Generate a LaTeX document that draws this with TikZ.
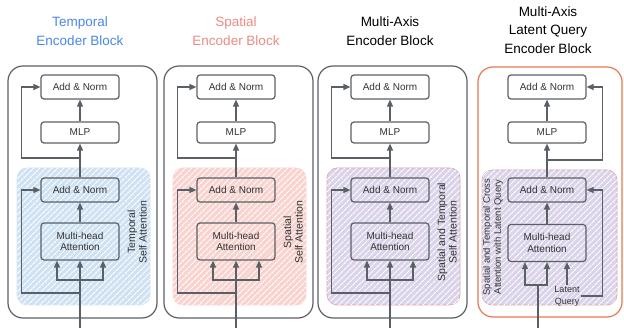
\documentclass[tikz,border=0pt]{standalone}
\usepackage{fontspec}
\setmainfont{Liberation Sans}
\usetikzlibrary{arrows.meta}
\usetikzlibrary{patterns.meta}
\definecolor{linegray}{HTML}{5A6066}
\definecolor{tempblue}{HTML}{4A86E8}
\definecolor{tempfill}{HTML}{CFE2F3}
\definecolor{spatred}{HTML}{EC8A84}
\definecolor{spatfill}{HTML}{F8D3D0}
\definecolor{axisfill}{HTML}{DAD3EA}
\definecolor{axisedge}{HTML}{E3A3A8}
\definecolor{latentorange}{HTML}{E8764F}
\tikzstyle{block}=[draw=linegray, line width=1.2pt, rounded corners=3pt, minimum width=78pt, text=black!80, font=\fontsize{10}{11.5}\selectfont]
\tikzstyle{outer}=[draw=linegray, line width=1.2pt, rounded corners=15pt]
\tikzstyle{region}=[rounded corners=10pt, pattern={Lines[angle=45,distance=4pt,line width=1.1pt]}, pattern color=white]
\tikzstyle{arrow}=[draw=linegray, line width=1.2pt, -{Triangle[length=7pt,width=6pt]}]
\tikzstyle{wire}=[draw=linegray, line width=1.2pt]
\tikzstyle{title}=[align=center, font=\fontsize{13.5}{18.5}\selectfont]
\tikzstyle{side}=[align=center, rotate=90, text=black!80, font=\fontsize{10.5}{11.5}\selectfont]

\begin{document}
\begin{tikzpicture}[x=1pt, y=-1pt]
  \useasboundingbox (0,0) rectangle (624,328);

  % the three self attention blocks
  \foreach \i/\dx/\ttl/\tcol/\shade/\sdraw/\lbl in {
      1/0/{Temporal\\Encoder Block}/tempblue/tempfill/tempfill/{Temporal\\Self Attention},
      2/156/{Spatial\\Encoder Block}/spatred/spatfill/spatfill/{Spatial\\Self Attention},
      3/310/{Multi-Axis\\Encoder Block}/black/axisfill/axisedge/{Spatial and Temporal\\Self Attention}}{
    \node [title, text=\tcol] (title\i) at (80+\dx,31) {\ttl};
    \draw [outer] (8+\dx,66) rectangle (157+\dx,318);
    \path [region, preaction={fill=\shade, draw=\sdraw, line width=0.6pt}] (17+\dx,168) rectangle (150+\dx,305);

    \node [block, minimum height=24pt] (addtop\i) at (80+\dx,87) {Add \& Norm};
    \node [block, minimum height=21pt] (mlp\i) at (80+\dx,132.5) {MLP};
    \node [block, minimum height=24pt] (addmid\i) at (80+\dx,190) {Add \& Norm};
    \node [block, minimum height=37pt, align=center] (mha\i) at (80+\dx,241.5) {Multi-head\\Attention};
    \node [side] (label\i) at (137+\dx,232) {\lbl};

    \coordinate (in\i) at (80+\dx,328);
    \coordinate (split\i) at (80+\dx,280);
    \coordinate (res\i) at (80+\dx,293);
    \coordinate (skip\i) at (80+\dx,158);

    \draw [wire] (in\i) -- (split\i);
    \draw [arrow] (split\i) -| ([xshift=-23pt]mha\i.south);
    \draw [arrow] (split\i) -- (mha\i.south);
    \draw [arrow] (split\i) -| ([xshift=23pt]mha\i.south);
    \draw [arrow] (res\i) -| ([xshift=-19pt]addmid\i.west) -- (addmid\i.west);
    \draw [arrow] (mha\i.north) -- (addmid\i.south);
    \draw [arrow] (addmid\i.north) -- (mlp\i.south);
    \draw [arrow] (mlp\i.north) -- (addtop\i.south);
    \draw [arrow] (skip\i) -| ([xshift=-19pt]addtop\i.west) -- (addtop\i.west);
  }

  % latent query block
  \node [title] (title4) at (548,30) {Multi-Axis\\Latent Query\\Encoder Block};
  \draw [outer, draw=latentorange] (478,67) rectangle (622,317);
  \path [region, preaction={fill=axisfill, draw=axisedge, line width=0.6pt}] (482,170) rectangle (617,305);

  \node [block, minimum height=24pt] (addtop4) at (547,87) {Add \& Norm};
  \node [block, minimum height=21pt] (mlp4) at (547,132.5) {MLP};
  \node [block, minimum height=24pt] (addmid4) at (547,190) {Add \& Norm};
  \node [block, minimum height=37pt, align=center] (mha4) at (547,243) {Multi-head\\Attention};
  \node [side, font=\fontsize{9.5}{11}\selectfont] (label4) at (493,237) {Spatial and Temporal Cross\\Attention with Latent Query};
  \node [align=center, text=black!80, inner sep=1pt, font=\fontsize{9}{12}\selectfont] (latent) at (567,296) {Latent\\Query};

  \coordinate (in4) at (538,328);
  \coordinate (split4) at (538,285);
  \coordinate (skip4) at (547,160);

  \draw [wire] (in4) -- (split4);
  \draw [arrow] (split4) -| ([xshift=-22pt]mha4.south);
  \draw [arrow] (split4) -| (mha4.south);
  \draw [arrow] (latent.north) -- (latent.north |- mha4.south);
  \draw [arrow] (latent.east) -| ([xshift=16pt]addmid4.east) -- (addmid4.east);
  \draw [arrow] (mha4.north) -- (addmid4.south);
  \draw [arrow] (addmid4.north) -- (mlp4.south);
  \draw [arrow] (mlp4.north) -- (addtop4.south);
  \draw [arrow] (skip4) -| ([xshift=16pt]addtop4.east) -- (addtop4.east);
\end{tikzpicture}
\end{document}
